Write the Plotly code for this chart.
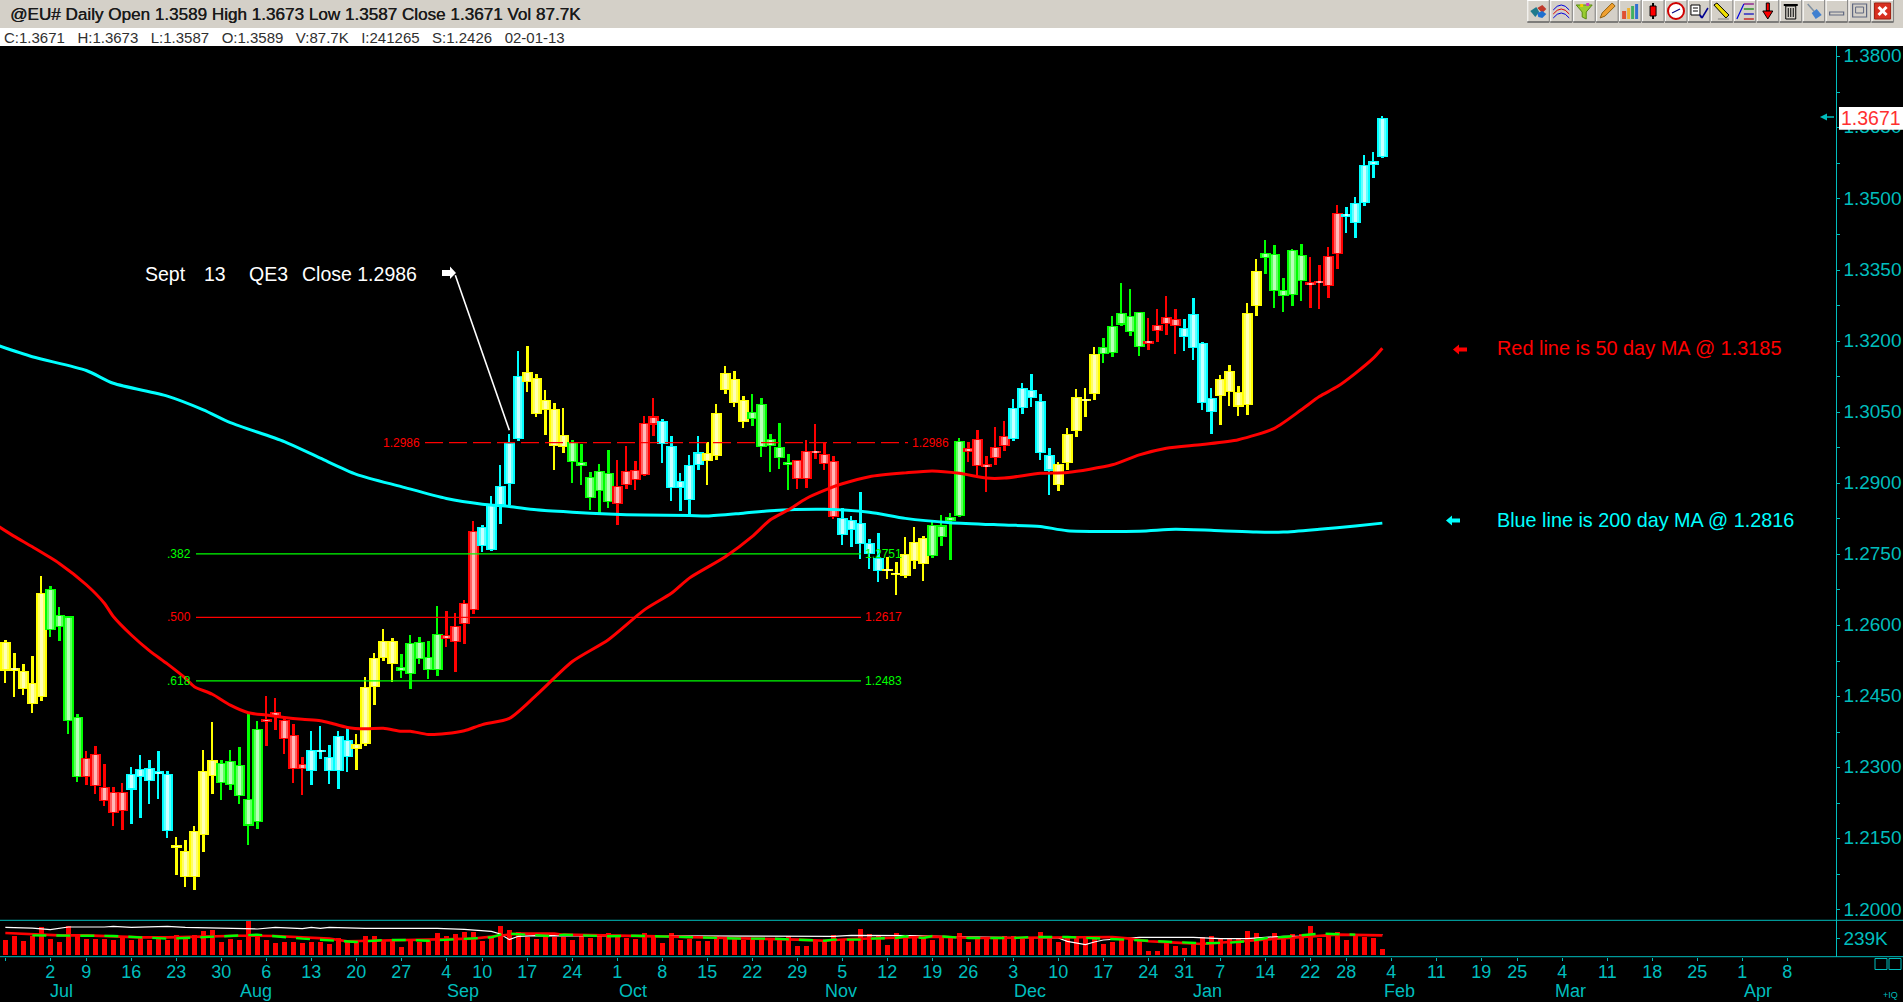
import plotly.graph_objects as go

# ---------- DATA ----------
opens = [1.2565,1.2510,1.2504,1.2478,1.2450,1.2678,1.2597,1.2619,1.2408,1.2280,1.2328,1.2260,1.2249,1.2209,1.2254,1.2280,1.2299,1.2292,1.2287,1.2132,
1.2124,1.2070,1.2157,1.2283,1.2309,1.2263,1.2306,1.2235,1.2186,1.2398,1.2409,1.2401,1.2370,1.2308,1.2292,1.2334,1.2322,1.2292,1.2358,1.2340,
1.2349,1.2471,1.2531,1.2567,1.2512,1.2498,1.2566,1.2533,1.2507,1.2581,1.2566,1.2604,1.2633,1.2808,1.2759,1.2854,1.2899,1.2994,1.3134,1.3123,
1.3055,1.3056,1.2977,1.2987,1.2944,1.2914,1.2883,1.2922,1.2857,1.2897,1.2928,1.2918,1.3024,1.3032,1.2978,1.2891,1.2865,1.2939,1.2963,1.2958,
1.3097,1.3121,1.3075,1.3035,1.3068,1.2994,1.2976,1.2944,1.2950,1.2910,1.2964,1.2961,1.2948,1.2826,1.2801,1.2817,1.2775,1.2742,1.2719,1.2711,
1.2704,1.2737,1.2785,1.2746,1.2787,1.2820,1.2830,1.2974,1.2993,1.2941,1.2953,1.2978,1.2994,1.3059,1.3097,1.3073,1.2960,1.2897,1.2942,1.3010,
1.3073,1.3088,1.3187,1.3174,1.3235,1.3219,1.3261,1.3194,1.3221,1.3236,1.3246,1.3227,1.3257,1.3196,1.3050,1.3085,1.3137,1.3092,1.3066,1.3275,
1.3375,1.3383,1.3307,1.3297,1.3381,1.3318,1.3327,1.3317,1.3383,1.3469,1.3450,1.3492,1.3571,1.3589]
highs = [1.2569,1.2542,1.2518,1.2535,1.2704,1.2683,1.2639,1.2619,1.2413,1.2335,1.2346,1.2308,1.2259,1.2267,1.2301,1.2327,1.2316,1.2335,1.2293,1.2154,
1.2147,1.2178,1.2337,1.2396,1.2316,1.2337,1.2344,1.2415,1.2398,1.2451,1.2448,1.2408,1.2392,1.2323,1.2377,1.2389,1.2347,1.2377,1.2383,1.2371,
1.2491,1.2543,1.2592,1.2573,1.2540,1.2580,1.2575,1.2567,1.2641,1.2630,1.2626,1.2654,1.2820,1.2812,1.2873,1.2938,1.3003,1.3179,1.3189,1.3130,
1.3096,1.3070,1.3058,1.2991,1.2982,1.2923,1.2940,1.2971,1.2950,1.2978,1.2947,1.3042,1.3079,1.3035,1.2999,1.2921,1.2959,1.2999,1.2987,1.3068,
1.3147,1.3137,1.3084,1.3089,1.3081,1.3004,1.3028,1.2961,1.2950,1.2991,1.3026,1.2988,1.2957,1.2847,1.2832,1.2881,1.2782,1.2795,1.2744,1.2733,
1.2786,1.2808,1.2789,1.2820,1.2834,1.2837,1.2996,1.2988,1.3013,1.2958,1.3019,1.3031,1.3078,1.3111,1.3131,1.3089,1.2975,1.2946,1.3017,1.3099,
1.3102,1.3188,1.3207,1.3253,1.3323,1.3310,1.3261,1.3249,1.3268,1.3296,1.3267,1.3246,1.3291,1.3198,1.3101,1.3128,1.3149,1.3106,1.3280,1.3373,
1.3414,1.3402,1.3333,1.3394,1.3405,1.3377,1.3360,1.3398,1.3487,1.3483,1.3504,1.3592,1.3599,1.3673]
lows = [1.2479,1.2450,1.2453,1.2416,1.2441,1.2576,1.2568,1.2371,1.2270,1.2263,1.2244,1.2219,1.2176,1.2169,1.2181,1.2194,1.2223,1.2234,1.2152,1.2074,
1.2049,1.2042,1.2122,1.2244,1.2232,1.2253,1.2223,1.2137,1.2171,1.2346,1.2379,1.2329,1.2268,1.2242,1.2263,1.2318,1.2266,1.2255,1.2291,1.2295,
1.2347,1.2432,1.2525,1.2481,1.2489,1.2466,1.2519,1.2488,1.2493,1.2554,1.2502,1.2562,1.2624,1.2756,1.2758,1.2814,1.2854,1.2990,1.3093,1.3040,
1.3002,1.2928,1.2964,1.2901,1.2896,1.2843,1.2838,1.2848,1.2812,1.2888,1.2886,1.2916,1.2999,1.2943,1.2862,1.2841,1.2829,1.2928,1.2896,1.2949,
1.3088,1.3061,1.3017,1.3021,1.2955,1.2924,1.2931,1.2886,1.2888,1.2890,1.2951,1.2928,1.2824,1.2770,1.2765,1.2740,1.2719,1.2692,1.2699,1.2664,
1.2702,1.2719,1.2693,1.2744,1.2767,1.2739,1.2829,1.2946,1.2918,1.2881,1.2939,1.2969,1.2990,1.3047,1.3060,1.2950,1.2876,1.2884,1.2929,1.2997,
1.3040,1.3076,1.3154,1.3167,1.3233,1.3211,1.3169,1.3182,1.3199,1.3213,1.3173,1.3180,1.3161,1.3055,1.3005,1.3024,1.3064,1.3043,1.3045,1.3253,
1.3342,1.3270,1.3262,1.3275,1.3285,1.3270,1.3268,1.3291,1.3353,1.3429,1.3418,1.3485,1.3544,1.3587]
closes = [1.2505,1.2505,1.2466,1.2434,1.2668,1.2591,1.2622,1.2399,1.2281,1.2320,1.2262,1.2230,1.2205,1.2249,1.2287,1.2297,1.2271,1.2286,1.2167,1.2135,
1.2070,1.2166,1.2293,1.2316,1.2268,1.2314,1.2241,1.2178,1.2382,1.2401,1.2417,1.2360,1.2297,1.2297,1.2337,1.2335,1.2292,1.2366,1.2323,1.2351,
1.2470,1.2531,1.2567,1.2519,1.2505,1.2564,1.2529,1.2507,1.2582,1.2572,1.2600,1.2647,1.2799,1.2768,1.2857,1.2895,1.2986,1.3127,1.3114,1.3047,
1.3075,1.2979,1.3001,1.2945,1.2937,1.2869,1.2927,1.2861,1.2895,1.2925,1.2907,1.3028,1.3041,1.2983,1.2890,1.2904,1.2938,1.2965,1.2947,1.3049,
1.3132,1.3070,1.3030,1.3051,1.2977,1.2979,1.2954,1.2939,1.2909,1.2969,1.2967,1.2941,1.2829,1.2791,1.2822,1.2772,1.2751,1.2715,1.2715,1.2707,
1.2750,1.2777,1.2729,1.2812,1.2811,1.2829,1.2989,1.2965,1.2936,1.2934,1.2976,1.3000,1.3059,1.3101,1.3079,1.2963,1.2927,1.2941,1.3004,1.3082,
1.3078,1.3173,1.3172,1.3232,1.3259,1.3252,1.3187,1.3201,1.3234,1.3250,1.3231,1.3208,1.3185,1.3069,1.3080,1.3120,1.3092,1.3062,1.3259,1.3348,
1.3386,1.3305,1.3296,1.3392,1.3326,1.3325,1.3322,1.3379,1.3470,1.3462,1.3491,1.3571,1.3580,1.3671]
volumes_k = [219,278,205,273,409,234,190,424,307,234,234,234,219,248,219,278,219,248,219,292,234,292,351,365,190,234,219,492,307,219,175,190,190,175,190,190,161,248,205,205,278,278,219,234,117,205,190,205,321,278,307,336,336,205,248,
424,365,336,263,234,278,263,263,219,292,248,278,321,278,248,234,321,292,175,321,219,234,205,205,278,248,263,219,248,234,234,234,278,131,131,219,205,292,234,248,380,307,292,146,321,263,248,263,219,248,248,321,190,234,234,234,
278,278,248,263,336,263,190,248,263,263,248,161,190,248,234,234,58,58,175,131,102,175,263,278,234,234,234,351,321,219,321,248,307,307,424,248,307,336,219,278,263,248,88]
# number of trading days in each weekly colour block
week_lengths = [5,4,5,5,5,5,5,5,5,5,4,5,5,5,5,5,5,5,5,5,5,4,5,5,5,5,4,4,5,5,4,5]

ma200_bar = [-1,3,9,12,18,22,25,31,35,39,44,49,53,56,59,63,67,71,76,78,82,85,91,96,100,105,111,115,118,126,130,135,139,142,146,150,153]
ma200_val = [1.3192,1.3167,1.3138,1.3111,1.3084,1.3055,1.3028,1.2988,1.2953,1.2919,1.2893,1.2868,1.2856,1.2851,1.2844,1.2839,1.2835,1.2833,1.2832,1.2831,1.2837,1.2842,1.2845,1.2839,1.2826,1.2817,1.2812,1.2809,1.2800,1.2799,1.2803,1.2800,1.2797,1.2797,1.2803,1.2810,1.2816]
ma50_bar = [-1,1,3,6,9,11,12,14,16,18,20,21,23,25,27,29,31,33,35,36,38,40,42,44,45,47,49,51,53,56,59,63,67,71,74,76,80,83,85,87,89,91,93,96,100,103,106,109,111,115,118,123,126,129,133,137,141,144,146,148,150,152,153]
ma50_val = [1.2812,1.2788,1.2766,1.2731,1.2686,1.2647,1.2619,1.2580,1.2547,1.2519,1.2489,1.2471,1.2455,1.2432,1.2416,1.2411,1.2406,1.2402,1.2399,1.2395,1.2385,1.2382,1.2383,1.2377,1.2377,1.2370,1.2372,1.2378,1.2391,1.2404,1.2453,1.2524,1.2570,1.2633,1.2668,1.2700,1.2745,1.2788,1.2823,1.2844,1.2868,1.2885,1.2899,1.2914,1.2922,1.2926,1.2921,1.2911,1.2911,1.2921,1.2923,1.2939,1.2960,1.2974,1.2982,1.2992,1.3016,1.3055,1.3083,1.3104,1.3132,1.3164,1.3185]

vol_red_bar = [0,3,6,9,12,15,18,22,26,30,33,36,38,41,46,52,57,61,62,67,74,80,85,88,91,94,98,103,108,117,123,125,127,130,133,136,140,143,148,153]
vol_red_val = [321,307,287,287,273,258,258,273,282,278,263,239,200,209,224,239,312,312,297,287,268,248,239,224,209,234,248,268,248,263,263,239,200,180,161,190,224,258,297,287]
vol_green_bar = [3,6,9,12,15,18,20,23,26,28,33,39,41,42,45,47,50,52,54,55,56,61,62,67,70,74,79,82,85,91,92,95,96,97,99,100,102,103,105,107,110,112,114,118,133,136,138,140,142,144,146,150]
vol_green_val = [287,287,278,278,258,239,248,263,278,297,239,190,209,219,219,209,229,248,258,297,312,273,297,273,282,268,248,239,239,209,224,224,239,239,248,273,248,278,258,248,248,248,263,263,170,180,200,244,263,282,312,297]
vol_white_bar = [0,3,5,7,11,12,14,18,20,28,30,33,34,35,36,40,48,51,54,55,56,57,59,76,92,94,99,101,105,110,117,118,120,121,122,126,132,135,138,140,142,146,147,149,153]
vol_white_val = [404,394,370,409,409,419,404,419,404,380,404,385,404,390,404,390,390,375,346,307,224,273,282,273,273,287,287,282,268,258,248,200,151,190,219,258,258,239,239,258,273,273,287,297,297]

fib_levels = {"0.382": 1.2751, "0.500": 1.2617, "0.618": 1.2483}
qe3_close = 1.2986
arrow_bars = [50, 56]
arrow_prices = [1.3339, 1.3012]

date_tick_bars = [0,5,9,14,19,24,29,34,39,44,49,53,58,63,68,73,78,83,88,93,98,103,107,112,117,122,127,131,135,140,145,149,154,159,164,168,173,178,183,188,193,198]
date_tick_text = ["","2","9","16","23","30","6","13","20","27","4","10","17","24","1","8","15","22","29","5","12","19","26","3","10","17","24","31","7","14","22","28","4","11","19","25","4","11","18","25","1","8"]
month_names = ["Jul","Aug","Sep","Oct","Nov","Dec","Jan","Feb","Mar","Apr"]
month_bars = [6.25,27.8,50.9,69.7,92.9,113.9,133.6,154.9,173.9,194.7]
price_ticks = [1.38,1.365,1.35,1.335,1.32,1.305,1.29,1.275,1.26,1.245,1.23,1.215,1.20]

# ---------- page geometry ----------
W, H = 1903, 1002
AX_X = 1835.6
def PX(x): return x / W
def PY(y): return 1 - y / H
def BX(x): return (x - 5.33) / 9.0
CYAN_DK = "#00BDBD"
FONT = "Liberation Sans"
n = len(closes)

# colours per weekly block
base = [("#FFFF00", "#FFFF60", "#FFFFB8"), ("#00FF00", "#60FF60", "#B8FFB8"),
        ("#FF0000", "#FF6060", "#FFB8B8"), ("#00FFFF", "#60FFFF", "#C8FFFF")]
cols = []
for k, L in enumerate(week_lengths):
    cols += [base[k % 4]] * L
cols = cols[:n]

x = list(range(n))
tops = [max(o, c) for o, c in zip(opens, closes)]
bots = [min(o, c) for o, c in zip(opens, closes)]
up = [c > o for o, c in zip(opens, closes)]

UNIT_THIN, UNIT_THICK = 1.1 / 9, 3.0 / 9
fig = go.Figure()
def bars(y0, y1, widths, colors, xa="x", ya="y"):
    fig.add_trace(go.Bar(x=x, y=[b - a for a, b in zip(y0, y1)], base=y0, width=widths,
                         marker=dict(color=colors, line=dict(width=0)), hoverinfo="skip",
                         xaxis=xa, yaxis=ya, showlegend=False))

edge = [c[0] for c in cols]
bars(tops, highs, [UNIT_THIN if u else UNIT_THICK for u in up], edge)
bars(lows, bots, [UNIT_THICK if u else UNIT_THIN for u in up], edge)
bars(bots, [max(t, b + 0.0004) for t, b in zip(tops, bots)], [11 / 9] * n, edge)
inset = 0.00022
in_b = [min(b + inset, (t + b) / 2) for t, b in zip(tops, bots)]
in_t = [max(t - inset, (t + b) / 2 + 0.0001) for t, b in zip(tops, bots)]
bars(in_b, in_t, [7.4 / 9] * n, [c[1] for c in cols])
bars(in_b, in_t, [3.2 / 9] * n, [c[2] for c in cols])

# fib / QE3 levels
def level(x0, x1, yv, color, dash="solid"):
    fig.add_trace(go.Scatter(x=[x0, x1], y=[yv, yv], mode="lines", hoverinfo="skip", showlegend=False,
                             line=dict(color=color, width=1.3, dash=dash), xaxis="x", yaxis="y"))
level(BX(196), BX(861), fib_levels["0.382"], "#00FF00")
level(BX(196), BX(861), fib_levels["0.500"], "#FF0000")
level(BX(196), BX(861), fib_levels["0.618"], "#00FF00")
level(BX(425), BX(908), qe3_close, "#FF0000", "18px,6px")

# moving averages
fig.add_trace(go.Scatter(x=ma200_bar, y=ma200_val, mode="lines", line=dict(color="#00FFFF", width=3, shape="spline", smoothing=0.7),
                         hoverinfo="skip", showlegend=False))
fig.add_trace(go.Scatter(x=ma50_bar, y=ma50_val, mode="lines", line=dict(color="#FF0000", width=3, shape="spline", smoothing=0.7),
                         hoverinfo="skip", showlegend=False))
# QE3 pointer line
fig.add_trace(go.Scatter(x=arrow_bars, y=arrow_prices, mode="lines", line=dict(color="#FFFFFF", width=1.6),
                         hoverinfo="skip", showlegend=False))

# volume pane
fig.add_trace(go.Bar(x=x, y=volumes_k, width=[5 / 9] * n, marker=dict(color="#FF0000", line=dict(width=0)),
                     hoverinfo="skip", showlegend=False, xaxis="x2", yaxis="y2"))
fig.add_trace(go.Scatter(x=vol_white_bar, y=vol_white_val, mode="lines", line=dict(color="#FFFFFF", width=1.2),
                         hoverinfo="skip", showlegend=False, xaxis="x2", yaxis="y2"))
fig.add_trace(go.Scatter(x=vol_red_bar, y=vol_red_val, mode="lines", line=dict(color="#FF0000", width=2.6),
                         hoverinfo="skip", showlegend=False, xaxis="x2", yaxis="y2"))
fig.add_trace(go.Scatter(x=vol_green_bar, y=vol_green_val, mode="lines", line=dict(color="#00FF00", width=2.4, dash="14px,10px"),
                         hoverinfo="skip", showlegend=False, xaxis="x2", yaxis="y2"))

# ---------- decoration ----------
shapes = []
def rect(x0, y0, x1, y1, fill, line=None, lw=1):
    shapes.append(dict(type="rect", xref="paper", yref="paper", x0=PX(x0), x1=PX(x1), y0=PY(y0), y1=PY(y1),
                       fillcolor=fill, line=dict(color=line or fill, width=lw if line else 0), layer="above"))
def seg(x0, y0, x1, y1, color, lw=1):
    shapes.append(dict(type="line", xref="paper", yref="paper", x0=PX(x0), x1=PX(x1), y0=PY(y0), y1=PY(y1),
                       line=dict(color=color, width=lw), layer="above"))
def poly(pts, fill, line=None):
    path = "M" + " L".join(f"{PX(a):.5f},{PY(b):.5f}" for a, b in pts) + " Z"
    shapes.append(dict(type="path", xref="paper", yref="paper", path=path, fillcolor=fill,
                       line=dict(color=line or fill, width=1 if line else 0), layer="above"))

rect(0, 0, W, 28, "#D4D0C8")
rect(0, 28, W, 46, "#FFFFFF")
seg(0, 920.3, W, 920.3, CYAN_DK, 1)
seg(0, 956.7, W, 956.7, CYAN_DK, 1)
rect(1875, 958.5, 1887, 969.5, "rgba(0,0,0,0)", CYAN_DK)
rect(1889, 958.5, 1901, 969.5, "rgba(0,0,0,0)", CYAN_DK)

# toolbar buttons
bx0, pitch = 1527.3, 22.95
for k in range(16):
    a = bx0 + k * pitch
    rect(a, 0, a + 22, 22, "#D4D0C8")
    seg(a, 0.5, a + 22, 0.5, "#FFFFFF")
    seg(a + 0.5, 0, a + 0.5, 22, "#FFFFFF")
    seg(a, 22, a + 22, 22, "#606060", 1.5)
    seg(a + 22, 0, a + 22, 22, "#808080", 1)
def B(k): return bx0 + k * pitch
# 0 cubes
poly([(B(0)+3,11),(B(0)+9,7),(B(0)+12,12),(B(0)+8,17)], "#1F7A8C")
poly([(B(0)+10,8),(B(0)+15,5),(B(0)+19,9),(B(0)+15,13)], "#C0392B")
poly([(B(0)+10,13),(B(0)+15,11),(B(0)+19,14),(B(0)+15,18),(B(0)+11,17)], "#1E6FD0")
# 1 arcs
for dy, c in zip((4, 8, 12), ("#0000E0", "#E00000", "#0000E0")):
    shapes.append(dict(type="path", xref="paper", yref="paper", layer="above", line=dict(color=c, width=1),
                       path=f"M{PX(B(1)+3):.5f},{PY(dy+6):.5f} Q{PX(B(1)+11):.5f},{PY(dy-4):.5f} {PX(B(1)+19):.5f},{PY(dy+6):.5f}"))
# 2 funnel
poly([(B(2)+3,5),(B(2)+19,5),(B(2)+13,12),(B(2)+13,19),(B(2)+9,17),(B(2)+9,12)], "#9ACD32", "#5A8A10")
rect(B(2)+7, 4, B(2)+10, 7, "#F0D000")
rect(B(2)+13, 3, B(2)+16, 6, "#D040C0")
# 3 pencil
poly([(B(3)+4,18),(B(3)+6,13),(B(3)+16,3),(B(3)+19,6),(B(3)+9,16)], "#F0A030", "#906010")
# 4 bars
rect(B(4)+3, 11, B(4)+7, 19, "#E05030")
rect(B(4)+8, 8, B(4)+11, 19, "#F0B030")
rect(B(4)+12, 6, B(4)+15, 19, "#40B060")
rect(B(4)+16, 4, B(4)+19, 19, "#3070D0")
# 5 candle
seg(B(5)+11, 3, B(5)+11, 19, "#000000", 2)
rect(B(5)+8, 6, B(5)+14, 16, "#FF0000", "#000000")
# 6 clock
shapes.append(dict(type="circle", xref="paper", yref="paper", layer="above", x0=PX(B(6)+3), x1=PX(B(6)+19),
                   y0=PY(19), y1=PY(3), fillcolor="#FFFFFF", line=dict(color="#D00000", width=2)))
seg(B(6)+7, 13, B(6)+15, 9, "#000080", 1.2)
# 7 checklist
rect(B(7)+3, 5, B(7)+12, 15, "#FFFFFF", "#000000")
seg(B(7)+5, 8, B(7)+10, 8, "#000000"); seg(B(7)+5, 11, B(7)+10, 11, "#000000")
seg(B(7)+12, 15, B(7)+14, 18, "#000090", 2); seg(B(7)+14, 18, B(7)+20, 8, "#000090", 1.5)
# 8 yellow pencil
poly([(B(8)+15,18),(B(8)+18,15),(B(8)+6,3),(B(8)+3,5)], "#F0E000", "#000000")
seg(B(8)+7, 19, B(8)+18, 19, "#808080")
# 9 fib
seg(B(9)+3, 19, B(9)+10, 4, "#0000E0", 1.2)
for yy, c in zip((4, 9, 14, 19), ("#800080", "#008000", "#0000C0", "#C00000")):
    seg(B(9)+10, yy, B(9)+20, yy, c, 1.2)
# 10 arrow
rect(B(10)+9.5, 3, B(10)+12.5, 11, "#FF0000", "#000000")
poly([(B(10)+6,11),(B(10)+16,11),(B(10)+11,19)], "#FF0000", "#000000")
# 11 trash
rect(B(11)+6, 6, B(11)+16, 19, "#D4D0C8", "#000000")
seg(B(11)+4, 5, B(11)+18, 5, "#000000", 2)
for d in (8.5, 11, 13.5):
    seg(B(11)+d, 8, B(11)+d, 17, "#000000", 1)
# 12 tool
seg(B(12)+5, 4, B(12)+12, 12, "#8090A0", 1.5)
poly([(B(12)+9,13),(B(12)+14,9),(B(12)+19,15),(B(12)+13,19)], "#4080D0")
# 13-15 window buttons
rect(B(13)+4, 12, B(13)+18, 15, "#D4D0C8", "#606880", 1.2)
rect(B(14)+4, 4, B(14)+18, 17, "#D4D0C8", "#606880", 1.2)
rect(B(14)+7, 7, B(14)+15, 13, "#D4D0C8", "#606880", 1)
rect(B(15)+3, 3, B(15)+19, 19, "#D83020", "#A02010")
seg(B(15)+7, 7, B(15)+15, 15, "#FFFFFF", 3); seg(B(15)+15, 7, B(15)+7, 15, "#FFFFFF", 3)

# white / coloured arrows
poly([(442,270),(450,270),(450,266.5),(456,273),(450,279),(450,276),(442,276)], "#FFFFFF")
poly([(1453,349.5),(1459,344.5),(1459,347.5),(1467,347.5),(1467,351.5),(1459,351.5),(1459,354.5)], "#FF0000")
poly([(1446,520.6),(1452,515.6),(1452,518.6),(1460,518.6),(1460,522.6),(1452,522.6),(1452,525.6)], "#00FFFF")
poly([(1820,117),(1827,113.5),(1827,116.2),(1834,116.2),(1834,117.8),(1827,117.8),(1827,120.5)], CYAN_DK)
rect(1839, 107, W, 129.7, "#FFFFFF")

# texts
ann = []
def txt(xpx, ypx, s, color, size, anchor="left", family=FONT, shadow=None):
    f = dict(color=color, size=size, family=family)
    if shadow:
        f["shadow"] = shadow
    ann.append(dict(x=PX(xpx), y=PY(ypx), xref="paper", yref="paper", text=s, showarrow=False, xanchor=anchor,
                    yanchor="middle", font=f, borderpad=0))
def txtd(bar, price, s, color, size, anchor):
    ann.append(dict(x=bar, y=price, xref="x", yref="y", text=s, showarrow=False, xanchor=anchor,
                    yanchor="middle", font=dict(color=color, size=size, family=FONT), borderpad=0))

txt(9, 14.5, "@EU# Daily Open 1.3589 High 1.3673 Low 1.3587 Close 1.3671 Vol 87.7K", "#1A1A1A", 17.1, shadow="0.4px 0 0 #1A1A1A")
gap = "\u00a0\u00a0\u00a0"
txt(3, 37.5, gap.join(["C:1.3671", "H:1.3673", "L:1.3587", "O:1.3589", "V:87.7K", "I:241265", "S:1.2426", "02-01-13"]), "#303030", 15)
txt(144, 274, "Sept", "#FFFFFF", 19.5)
txt(203, 274, "13", "#FFFFFF", 19.5)
txt(248, 274, "QE3", "#FFFFFF", 19.5)
txt(301, 274, "Close 1.2986", "#FFFFFF", 19.5)
txt(1496, 348.5, "Red line is 50 day MA @ 1.3185", "#FF0000", 19.9)
txt(1496, 520, "Blue line is 200 day MA @ 1.2816", "#00FFFF", 19.8)
txt(1871, 118.5, "1.3671", "#FF3030", 19.5, "center")
txt(1890, 995, "+IQ", CYAN_DK, 9, "center")

txtd(BX(192), fib_levels["0.382"], ".382", "#00FF00", 12, "right")
txtd(BX(192), fib_levels["0.500"], ".500", "#FF0000", 12, "right")
txtd(BX(192), fib_levels["0.618"], ".618", "#00FF00", 12, "right")
txtd(BX(864), fib_levels["0.382"], "1.2751", "#00FF00", 12, "left")
txtd(BX(864), fib_levels["0.500"], "1.2617", "#FF0000", 12, "left")
txtd(BX(864), fib_levels["0.618"], "1.2483", "#00FF00", 12, "left")
txtd(BX(421), qe3_close, "1.2986", "#FF0000", 12, "right")
txtd(BX(911), qe3_close, "1.2986", "#FF0000", 12, "left")
for name, b in zip(month_names, month_bars):
    ann.append(dict(x=b, y=PY(990.5), xref="x2", yref="paper", text=name, showarrow=False, xanchor="center", yanchor="middle",
                    font=dict(color=CYAN_DK, size=18, family=FONT)))

xrange_ = [BX(0), BX(AX_X)]
x_dom = [0, PX(AX_X)]
fig.update_layout(
    width=W, height=H, margin=dict(l=0, r=0, t=0, b=0, pad=0, autoexpand=False), autosize=False,
    paper_bgcolor="#000000", plot_bgcolor="#000000", barmode="overlay", bargap=0, showlegend=False,
    shapes=shapes, annotations=ann,
    xaxis=dict(domain=x_dom, range=xrange_, anchor="y", showgrid=False, zeroline=False, showticklabels=False, ticks="", showline=False),
    xaxis2=dict(domain=x_dom, range=xrange_, anchor="y2", showgrid=False, zeroline=False, showline=False,
                tickmode="array", tickvals=date_tick_bars, ticktext=date_tick_text, ticks="outside", ticklen=3, tickwidth=1,
                ticklabelstandoff=-4, tickcolor=CYAN_DK, tickangle=0, tickfont=dict(color=CYAN_DK, size=18, family=FONT)),
    yaxis=dict(domain=[PY(920.3), PY(46)], range=[1.38 - (920.3 - 56.7) / 4740, 1.38 + (56.7 - 46) / 4740],
               anchor="x", side="right", showgrid=False, zeroline=False, showline=True, linecolor=CYAN_DK, linewidth=1,
               tickmode="array", tickvals=price_ticks, ticktext=[f"{p:.4f}" for p in price_ticks], ticklabelshift=-1,
               ticks="outside", ticklen=3, tickcolor=CYAN_DK, tickfont=dict(color=CYAN_DK, size=19, family=FONT),
               minor=dict(tickmode="array", tickvals=[round(1.2 + 0.0075 * k, 4) for k in range(1, 24, 2)],
                          ticks="outside", ticklen=3, tickcolor=CYAN_DK, showgrid=False)),
    yaxis2=dict(domain=[PY(956.7), PY(920.3)], range=[-25, 507], anchor="x2", side="right", showgrid=False, zeroline=False,
                showline=True, linecolor=CYAN_DK, linewidth=1, tickmode="array", tickvals=[239], ticktext=["239K"],
                ticks="outside", ticklen=3, tickcolor=CYAN_DK, tickfont=dict(color=CYAN_DK, size=19, family=FONT)),
)
fig.write_html("out.html", config={"displayModeBar": False},
               post_script="document.documentElement.style.overflow='hidden';document.body.style.margin='0';document.body.style.background='#000';"
                           "var d=document.querySelector('.plotly-graph-div');d.style.position='fixed';d.style.left='0';d.style.top='0';")
